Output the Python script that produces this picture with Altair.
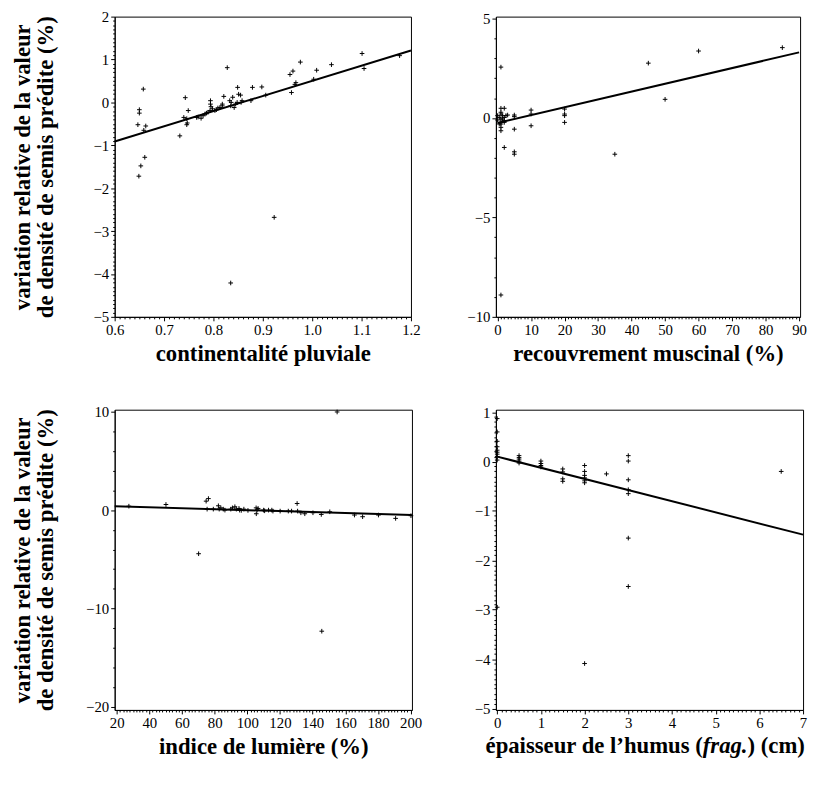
import altair as alt
import pandas as pd
import numpy as np

# ---------------- data ----------------
# Panel 1: continentalité pluviale
p1_x = [0.647, 0.65, 0.65, 0.658, 0.659, 0.663, 0.661, 0.653, 0.649,
        0.732, 0.743, 0.74, 0.749, 0.746, 0.747, 0.746,
        0.766, 0.769, 0.775, 0.779, 0.783, 0.786, 0.789, 0.793, 0.794, 0.794,
        0.795, 0.798, 0.803, 0.806, 0.809, 0.813, 0.818, 0.818, 0.821, 0.828,
        0.833, 0.835, 0.836, 0.839, 0.842, 0.845, 0.848, 0.849, 0.851, 0.855,
        0.856, 0.858,
        0.876, 0.879, 0.898, 0.906,
        0.923, 0.835,
        0.955, 0.958, 0.961, 0.965, 0.967, 0.976, 1.003, 1.009, 1.039, 1.101,
        1.105, 1.177]
p1_y = [-0.52, -0.17, -0.25, 0.31, -0.65, -0.55, -1.28, -1.48, -1.72,
        -0.78, 0.11, -0.35, -0.19, -0.38, -0.48, -0.52,
        -0.35, -0.34, -0.37, -0.31, -0.27, -0.25, -0.23, -0.19, 0.04, -0.04,
        -0.10, -0.15, -0.19, -0.17, -0.13, -0.12, -0.08, -0.04, 0.14, 0.81,
        0.04, -0.08, 0.0, 0.12, -0.12, -0.04, 0.0, 0.35, 0.19, 0.17,
        0.0, 0.04,
        0.04, 0.35, 0.36, 0.17,
        -2.68, -4.21,
        0.65, 0.23, 0.73, 0.42, 0.46, 0.94, 0.54, 0.75, 0.88, 1.14,
        0.79, 1.09]
p1_line_x = [0.6, 1.2]
p1_line_y = [-0.91, 1.21]

# Panel 2: recouvrement muscinal (%)
p2_x = [1, 1, 1, 2, 1, 1, 0, 0.5, 1.5, 2, 1, 1.5, 2.5, 3, 1, 1, 1, 2, 2,
        0, 0.5, 1,
        5, 5, 5, 2, 5, 5, 10, 10, 10, 20, 20, 20, 20, 35, 45, 50, 60, 85]
p2_y = [2.56, -8.9, 0.49, 0.49, 0.29, 0.2, 0.12, 0.03, 0.12, 0.03, -0.05,
        -0.05, 0.12, 0.15, -0.22, -0.30, -0.47, -0.13, -0.22,
        -0.1, -0.3, -0.64,
        0.15, 0.07, -0.56, -1.48, -1.70, -1.82, 0.40, 0.20, -0.39, 0.45, 0.2,
        0.12, -0.22, -1.82, 2.76, 0.94, 3.37, 3.54]
p2_line_x = [0, 90]
p2_line_y = [-0.25, 3.3]

# Panel 3: indice de lumière (%)
p3_x = [27.5, 50.2, 70.2, 74.8, 76.2, 75.4, 79.2, 82.3, 82.8, 83.8, 85.3,
        86.3, 89.9, 90.9, 92.4, 93.3, 94.9, 95.3, 96.3, 97.9, 100.4, 105.4,
        105.5, 106.0, 106.6, 110.0, 110.6, 113.0, 115.0, 115.7, 120.1, 125.1,
        127.1, 130.5, 130.8, 132.8, 135.2, 140.2, 145.3, 145.6, 150.5, 155.0,
        165.6, 170.6, 180.3, 190.8, 200.2]
p3_y = [0.40, 0.57, -4.43, 0.91, 1.17, 0.10, 0.10, 0.44, 0.10, 0.23, 0.10,
        0.0, 0.10, 0.23, 0.34, 0.10, 0.17, 0.0, -0.03, 0.10, -0.03, 0.23,
        -0.37, 0.0, 0.17, 0.0, -0.07, 0.0, 0.0, -0.10, -0.10, -0.10,
        -0.10, 0.67, -0.10, -0.27, -0.37, -0.27, -0.44, -12.3, -0.17, 9.97,
        -0.50, -0.67, -0.50, -0.84, -0.57]
p3_line_x = [18.8, 200.7]
p3_line_y = [0.40, -0.50]

# Panel 4: épaisseur de l'humus (frag.) (cm)
p4_x = [0, 0, 0, 0, 0, 0, 0, 0, 0, 0,
        0.5, 0.5, 0.5, 0.5, 0.5,
        1, 1, 1, 1,
        1.5, 1.5, 1.5, 1.5,
        2, 2, 2, 2, 2, 2, 2,
        2.5,
        3, 3, 3, 3, 3, 3, 3,
        6.5]
p4_y = [0.87, 0.6, 0.41, 0.3, 0.23, 0.19, 0.15, 0.1, 0.03, -2.95,
        0.12, 0.08, 0.05, 0.01, -0.03,
        0.01, -0.04, -0.08, -0.11,
        -0.15, -0.21, -0.35, -0.4,
        -0.08, -0.2, -0.28, -0.33, -0.39, -0.43, -4.09,
        -0.25,
        0.12, 0.01, -0.37, -0.57, -0.65, -1.55, -2.53,
        -0.2]
p4_line_x = [0, 7]
p4_line_y = [0.1, -1.48]

# axis texts
y_title = ["variation relative de la valeur", "de densité de semis prédite (%)"]
x_titles = ["continentalité pluviale", "recouvrement muscinal (%)",
            "indice de lumière (%)"]
x4_title_parts = ["épaisseur de l\u2019humus (", "frag.", ") (cm)"]

# ---------------- helpers ----------------
SERIF = "Liberation Serif"
CROSS = "M-1,0H1M0,-1V1"
XT_FS = 23
YT_FS = 23


def tick_values(lo, hi, major, nsub):
    step = major / nsub
    n = int(round((hi - lo) / step))
    return [round(lo + i * step, 6) for i in range(n + 1)]


def make_axis(values, major, fmt, title, title_pad, extent):
    test = f"abs(datum.value/{major} - round(datum.value/{major})) < 1e-6"
    kw = dict(
        values=values,
        labelExpr=f"{test} ? format(datum.value, '{fmt}') : ''",
        tickSize={"condition": {"test": test, "value": 4}, "value": 2},
        labelOverlap=False,
        labelFlush=False,
        grid=False,
        minExtent=extent,
        maxExtent=extent,
        title=title if title else "",
    )
    if title:
        kw["titlePadding"] = title_pad
    return alt.Axis(**kw)


def panel(xs, ys, lx, ly, xdom, ydom, xt, yt, xtitle, ytitle):
    pts = pd.DataFrame({"x": xs, "y": ys})
    ln = pd.DataFrame({"x": lx, "y": ly})
    xenc = alt.X("x:Q",
                 scale=alt.Scale(domain=xdom, nice=False, zero=False),
                 axis=make_axis(tick_values(*xt[:4]), xt[2], xt[4],
                                xtitle, 2, 24))
    yenc = alt.Y("y:Q",
                 scale=alt.Scale(domain=ydom, nice=False, zero=False),
                 axis=make_axis(tick_values(*yt[:4]), yt[2], yt[4],
                                ytitle, 32, 26))
    p = alt.Chart(pts).mark_point(shape=CROSS, size=22, filled=False,
                                  stroke="black", strokeWidth=1,
                                  opacity=1).encode(x=xenc, y=yenc)
    l = alt.Chart(ln).mark_line(color="black", strokeWidth=2).encode(
        x=xenc, y=yenc)
    return [p, l]


W1, W2, W3, W4 = 300, 308, 301, 311
H = 304

c1 = alt.layer(*panel(p1_x, p1_y, p1_line_x, p1_line_y,
                      [0.6, 1.2], [-5, 2],
                      (0.6, 1.2, 0.1, 10, ".1f"), (-5, 2, 1, 10, "d"),
                      x_titles[0], y_title)).properties(width=W1, height=H)
c2 = alt.layer(*panel(p2_x, p2_y, p2_line_x, p2_line_y,
                      [-0.5, 90.3], [-10, 5.1],
                      (0, 90, 10, 10, "d"), (-10, 5, 5, 5, "d"),
                      x_titles[1], None)).properties(width=W2, height=H)
c3 = alt.layer(*panel(p3_x, p3_y, p3_line_x, p3_line_y,
                      [18.8, 200.8], [-20.3, 10.2],
                      (20, 200, 20, 10, "d"), (-20, 10, 10, 5, "d"),
                      x_titles[2], y_title)).properties(width=W3, height=H)

l4 = panel(p4_x, p4_y, p4_line_x, p4_line_y,
           [-0.03, 7.0], [-5.03, 1.05],
           (0, 7, 1, 10, "d"), (-5, 1, 1, 10, "d"),
           None, None)

# composite title for panel 4 (with italic "frag.")
title_y = H + 24 + 2
start_x = -11
left_w = 9.584 * XT_FS
frag_w = 1.972 * XT_FS
tx_df = pd.DataFrame({"t": [0]})
t_left = alt.Chart(tx_df).mark_text(
    text=x4_title_parts[0], font=SERIF, fontSize=XT_FS, fontWeight="bold",
    align="right", baseline="top", color="black").encode(
    x=alt.value(start_x + left_w), y=alt.value(title_y))
t_mid = alt.Chart(tx_df).mark_text(
    text=x4_title_parts[1], font=SERIF, fontSize=XT_FS, fontWeight="bold",
    fontStyle="italic", align="left", baseline="top", color="black").encode(
    x=alt.value(start_x + left_w), y=alt.value(title_y))
t_right = alt.Chart(tx_df).mark_text(
    text=x4_title_parts[2], font=SERIF, fontSize=XT_FS, fontWeight="bold",
    align="left", baseline="top", color="black").encode(
    x=alt.value(start_x + left_w + frag_w), y=alt.value(title_y))

c4 = alt.layer(*l4, t_left, t_mid, t_right).properties(width=W4, height=H)

chart = alt.concat(
    c1, c2, c3, c4, columns=2,
    spacing={"row": 94, "column": 85}, bounds="flush"
).properties(
    padding={"left": 3, "top": -4, "right": 0, "bottom": 0}
).configure_view(
    stroke="black", strokeWidth=1
).configure_axis(
    labelFont=SERIF, labelFontSize=15, labelColor="black",
    labelPadding=2,
    titleFont=SERIF, titleFontWeight="bold",
    titleColor="black", titleLineHeight=23,
    domainColor="black", domainWidth=1, tickColor="black", tickWidth=1
).configure_axisX(
    titleFontSize=XT_FS
).configure_axisY(
    titleFontSize=YT_FS
)

chart.save("out.html", embed_options={"renderer": "svg", "actions": False})
